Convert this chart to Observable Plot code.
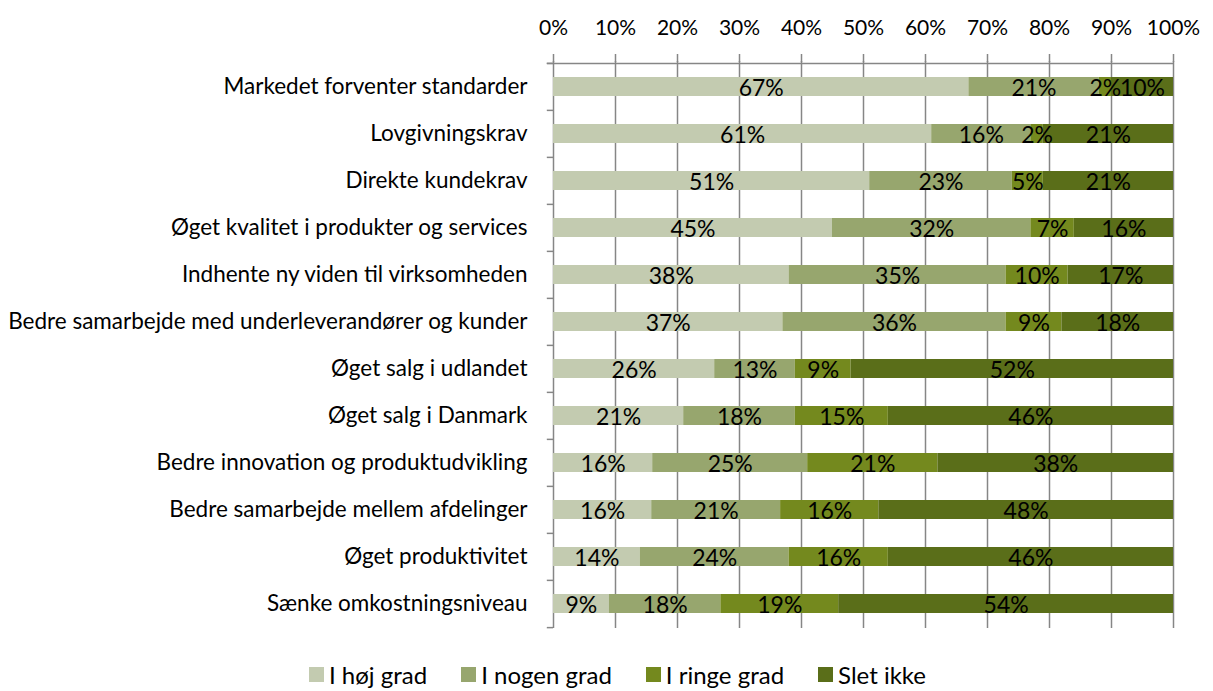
<!DOCTYPE html>
<html><head><meta charset="utf-8">
<script src="https://cdn.jsdelivr.net/npm/d3@7"></script>
<script src="https://cdn.jsdelivr.net/npm/@observablehq/plot@0.6"></script>
<style>
body{margin:0;background:#fff;font-family:Lato,sans-serif;color:#000;overflow:hidden;}
#legend{display:flex;justify-content:center;align-items:center;gap:34px;height:33px;padding-top:8px;padding-left:22px;font-size:24px;line-height:28px;}
#legend .item{display:flex;align-items:center;gap:5px;}
#legend .sw{width:15px;height:15px;display:inline-block;}
</style></head><body><div id="chart"></div><div id="legend"></div>
<script>
const categories = [
  "Markedet forventer standarder",
  "Lovgivningskrav",
  "Direkte kundekrav",
  "Øget kvalitet i produkter og services",
  "Indhente ny viden til virksomheden",
  "Bedre samarbejde med underleverandører og kunder",
  "Øget salg i udlandet",
  "Øget salg i Danmark",
  "Bedre innovation og produktudvikling",
  "Bedre samarbejde mellem afdelinger",
  "Øget produktivitet",
  "Sænke omkostningsniveau"
];
const seriesNames = ["I høj grad", "I nogen grad", "I ringe grad", "Slet ikke"];
const hoejGrad  = [67, 61, 51, 45, 38, 37, 26, 21, 16, 16, 14, 9];
const nogenGrad = [21, 16, 23, 32, 35, 36, 13, 18, 25, 21, 24, 18];
const ringeGrad = [2, 2, 5, 7, 10, 9, 9, 15, 21, 16, 16, 19];
const sletIkke  = [10, 21, 21, 16, 17, 18, 52, 46, 38, 48, 46, 54];
const xTicks = [0, 0.1, 0.2, 0.3, 0.4, 0.5, 0.6, 0.7, 0.8, 0.9, 1];
const colors = ["#c3cbb0", "#97a66e", "#74891e", "#5a6e19"];

const seriesValues = [hoejGrad, nogenGrad, ringeGrad, sletIkke];
const data = [];
categories.forEach((c, i) => {
  seriesNames.forEach((s, j) => data.push({category: c, series: s, value: seriesValues[j][i]}));
});

const W = 1213, H = 650, mT = 61, mB = 22, mL = 553, mR = 40;
const step = (H - mT - mB) / categories.length;
const gridColor = "#868686";

const chart = Plot.plot({
  width: W, height: H,
  marginTop: mT, marginBottom: mB, marginLeft: mL, marginRight: mR,
  style: {fontFamily: "Lato, sans-serif", fontSize: "19px", color: "#000", background: "#fff", overflow: "visible"},
  x: {domain: [0, 1]},
  y: {domain: categories, paddingInner: 0.6, paddingOuter: 0.3},
  color: {domain: seriesNames, range: colors},
  marks: [
    Plot.ruleX(xTicks, {stroke: gridColor, strokeWidth: 1.5}),
    Plot.ruleY([categories[0]], {y: d => d, x1: -0.01, x2: 1, dy: -step / 2, stroke: gridColor, strokeWidth: 1.5}),
    Plot.ruleY(categories, {y: d => d, x1: -0.01, x2: 0, dy: -step / 2, stroke: gridColor, strokeWidth: 1.5}),
    Plot.ruleY([categories[categories.length - 1]], {y: d => d, x1: -0.01, x2: 0, dy: step / 2, stroke: gridColor, strokeWidth: 1.5}),
    Plot.barX(data, Plot.stackX({x: "value", y: "category", z: "series", fill: "series", order: seriesNames, offset: "normalize"})),
    Plot.text(data, Plot.stackX({x: "value", y: "category", z: "series", order: seriesNames, offset: "normalize", text: d => d.value + "%", fill: "#000", fontSize: 23, dy: 2})),
    Plot.axisX({anchor: "top", ticks: xTicks, tickFormat: d3.format(".0%"), tickSize: 8, tickPadding: 19, stroke: gridColor, strokeWidth: 1.5, fontSize: 21, label: null}),
    Plot.axisY({tickSize: 0, tickPadding: 26, fontSize: 22.5, label: null})
  ]
});
document.getElementById("chart").appendChild(chart);

const legend = document.getElementById("legend");
seriesNames.forEach((s, j) => {
  const item = document.createElement("div");
  item.className = "item";
  const sw = document.createElement("span");
  sw.className = "sw";
  sw.style.background = colors[j];
  const t = document.createElement("span");
  t.textContent = s;
  item.appendChild(sw); item.appendChild(t);
  legend.appendChild(item);
});
</script></body></html>
